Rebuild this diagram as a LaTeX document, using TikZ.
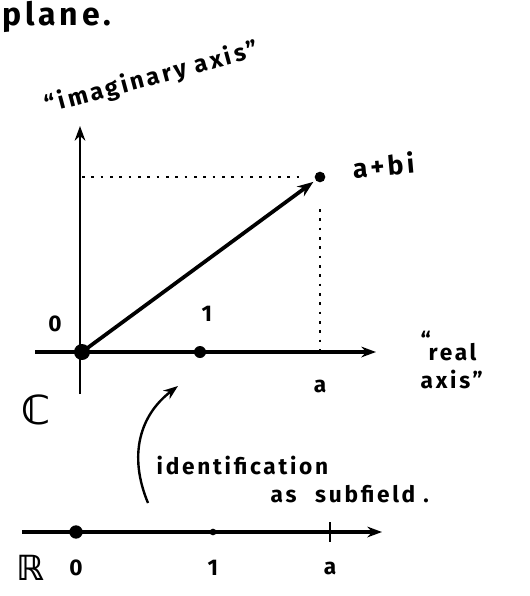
\documentclass[tikz,border=0pt]{standalone}
\usepackage{fontspec}
\setmainfont{Fira Sans}
\newfontfamily\hand[LetterSpace=12]{Fira Sans}
\newfontfamily\symfont{DejaVu Sans}
\usetikzlibrary{calc, arrows.meta, positioning}

\begin{document}
\begin{tikzpicture}[
  x=0.75pt, y=-0.75pt,
  axis/.style={-{Stealth[length=11pt, width=8pt]}, line width=2.8pt},
  vec/.style={-{Stealth[length=12pt, width=9pt]}, line width=2.8pt},
  guide/.style={line width=2.2pt, dash pattern=on 2pt off 5pt},
  bigdot/.style={circle, fill, inner sep=0pt, minimum size=#1},
  lbl/.style={font=\hand\bfseries\fontsize{17}{19}\selectfont},
  txt/.style={font=\hand\bfseries\fontsize{17}{19}\selectfont},
]
\useasboundingbox (0,0) rectangle (530,596);

% 标题
\node[anchor=base west, inner sep=0pt, font=\hand\bfseries\fontsize{24}{26}\selectfont] (title) at (2,26) {plane.};

% 复平面的坐标轴
\coordinate (xs) at (35,352);
\coordinate (xe) at (376,352);
\coordinate (ys) at (80,394);
\coordinate (ye) at (80,126);
\draw[axis] (xs) -- (xe);
\draw[axis, line width=2pt] (ys) -- (ye);

\node[txt, rotate=15, font=\hand\bfseries\fontsize{18}{20}\selectfont] (imlbl) at (152,78) {“imaginary axis”};
\node[txt, align=left, anchor=north west] (relbl) at (416,326) {“\\[-10pt]\hspace{6pt}real\\[2pt]axis”};

% 点 0, 1, a+bi
\node[bigdot=12pt] (O) at (82,352) {};
\node[bigdot=9pt] (one) at (200,352) {};
\node[bigdot=8pt] (z) at (320,177) {};

\node[lbl] (Olbl) at (55,324) {0};
\node[lbl] (onelbl) at (207,314) {1};
\node[lbl] (albl) at (320,386) {a};
\node[txt, rotate=5, anchor=west, font=\hand\bfseries\fontsize{20}{22}\selectfont] (zlbl) at (348,168) {a+bi};

% 向量和虚线投影
\draw[vec, shorten >=2pt] (O.center) -- (z);
\draw[guide, shorten >=8pt] (O |- z) -- (z);
\draw[guide, shorten <=24pt] (z.center) -- (z |- O);

\node[font=\symfont\bfseries\fontsize{30}{32}\selectfont] (C) at (36,410) {ℂ};

% 嵌入箭头
\coordinate (cs) at (148,503);
\coordinate (ce) at (178,386);
\draw[-{Stealth[length=11pt, width=8pt]}, line width=1.8pt] (cs) .. controls (128,455) and (140,415) .. (ce);
\node[txt, anchor=base west] (idlbl) at (152,474) {identification};
\node[txt, anchor=base west] (sublbl) at (266,502) {as\hspace{14pt}subfield .};

% 实数轴
\coordinate (rs) at (22,532);
\coordinate (re) at (382,532);
\draw[axis, line width=2.5pt] (rs) -- (re);
\node[bigdot=10pt] (R0) at (76,532) {};
\node[bigdot=5pt] (R1) at (213,532) {};
\coordinate (Ra) at (330,532);
\draw[line width=1.5pt] ($(Ra)+(0,-10)$) -- ($(Ra)+(0,10)$);

\node[font=\symfont\bfseries\fontsize{26}{28}\selectfont] (R) at (30,568) {ℝ};
\node[lbl] (R0lbl) at (76,568) {0};
\node[lbl] (R1lbl) at (213,568) {1};
\node[lbl] (Ralbl) at (330,568) {a};

\end{tikzpicture}
\end{document}
